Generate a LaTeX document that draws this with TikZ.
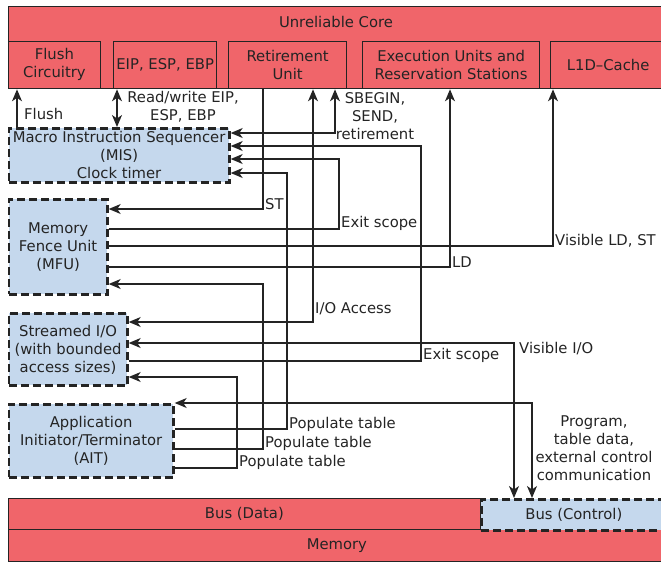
\documentclass[tikz,border=0pt]{standalone}
\usepackage{fontspec}
\setmainfont{DejaVu Sans}
\usetikzlibrary{arrows.meta}

\definecolor{corered}{RGB}{240,101,106}
\definecolor{unitblue}{RGB}{197,216,237}
\definecolor{ink}{RGB}{36,36,36}

\tikzset{
  txt/.style={font=\fontsize{14.8}{18}\selectfont, text=ink},
  redbox/.style={draw=ink, line width=1.3pt, fill=corered, txt, align=center,
    inner sep=0pt, anchor=north west},
  bluebox/.style={draw=ink, line width=2.7pt, dash pattern=on 8pt off 4pt,
    fill=unitblue, txt, align=center, inner sep=0pt, anchor=north west},
  wire/.style={draw=ink, line width=1.2pt},
  tip/.style={-{Stealth[length=12pt,width=10pt,inset=3.5pt]}},
  bitip/.style={{Stealth[length=12pt,width=10pt,inset=3.5pt]}-{Stealth[length=12pt,width=10pt,inset=3.5pt]}},
  lbl/.style={txt, inner sep=0pt, anchor=base west},
  mlbl/.style={txt, align=center, inner sep=0pt},
}

\begin{document}
\begin{tikzpicture}[x=1pt,y=-1pt]
\useasboundingbox (0,0) rectangle (661,562);
\clip (0,0) rectangle (661,562);

% ---- core and its units ----
\node[redbox, minimum width=657.5pt, minimum height=82pt] (core) at (7.5,6) {};
\node[txt] (coretitle) at (336,22) {Unreliable Core};
\node[redbox, minimum width=92.5pt, minimum height=47.5pt] (flush) at (7.5,40.5) {Flush\\Circuitry};
\node[redbox, minimum width=103pt, minimum height=47.5pt] (eip) at (113,40.5) {EIP, ESP, EBP};
\node[redbox, minimum width=118pt, minimum height=47.5pt] (ret) at (228,40.5) {Retirement\\Unit};
\node[redbox, minimum width=177pt, minimum height=47.5pt] (exe) at (362,40.5) {Execution Units and\\Reservation Stations};
\node[redbox, minimum width=115pt, minimum height=47.5pt] (l1d) at (550,40.5) {L1D--Cache};

% ---- reliable units ----
\node[bluebox, minimum width=220.5pt, minimum height=54pt] (mis) at (7.5,127) {Macro Instruction Sequencer\\(MIS)\\Clock timer};
\node[bluebox, minimum width=98.5pt, minimum height=95pt] (mfu) at (7.5,198) {Memory\\Fence Unit\\(MFU)};
\node[bluebox, minimum width=118.5pt, minimum height=72pt] (sio) at (7.5,312) {Streamed I/O\\(with bounded\\access sizes)};
\node[bluebox, minimum width=164.5pt, minimum height=73pt] (ait) at (7.5,403) {Application\\Initiator/Terminator\\(AIT)};

% ---- buses and memory ----
\node[redbox, minimum width=472.5pt, minimum height=31pt] (busd) at (7.5,498) {Bus (Data)};
\node[redbox, minimum width=657.5pt, minimum height=32pt] (mem) at (7.5,529) {Memory};
\node[bluebox, minimum width=185pt, minimum height=31pt] (busc) at (480,498) {Bus (Control)};

% ---- routing points ----
\coordinate (flushx) at (17,0);
\coordinate (eipx) at (117,0);
\coordinate (sbc) at (335,133);
\coordinate (ex2) at (421,361);
\coordinate (ex2top) at (421,146);
\coordinate (ex1) at (339,229);
\coordinate (ex1top) at (339,159);
\coordinate (pop1) at (287,429);
\coordinate (pop1top) at (287,173);
\coordinate (st) at (263,209);
\coordinate (pop2) at (263,449);
\coordinate (pop2top) at (263,284);
\coordinate (vis) at (553,246);
\coordinate (ld) at (450,267);
\coordinate (io) at (313,322);
\coordinate (vio) at (514,343);
\coordinate (prog) at (532,403);
\coordinate (pop3) at (237,468);
\coordinate (pop3top) at (237,377);

% ---- connectors ----
\draw[wire,tip] (mis.north -| flushx) -- (flush.south -| flushx);
\draw[wire,bitip] (mis.north -| eipx) -- (eip.south -| eipx);
\draw[wire,bitip] (mis.east |- sbc) -- (sbc) -- (ret.south -| sbc);
\draw[wire,tip] (sio.east |- ex2) -- (ex2) -- (ex2top) -- (mis.east |- ex2top);
\draw[wire,tip] (mfu.east |- ex1) -- (ex1) -- (ex1top) -- (mis.east |- ex1top);
\draw[wire,tip] (ait.east |- pop1) -- (pop1) -- (pop1top) -- (mis.east |- pop1top);
\draw[wire,tip] (ret.south -| st) -- (st) -- (mfu.east |- st);
\draw[wire,tip] (ait.east |- pop2) -- (pop2) -- (pop2top) -- (mfu.east |- pop2top);
\draw[wire,tip] (mfu.east |- vis) -- (vis) -- (l1d.south -| vis);
\draw[wire,tip] (mfu.east |- ld) -- (ld) -- (exe.south -| ld);
\draw[wire,bitip] (sio.east |- io) -- (io) -- (ret.south -| io);
\draw[wire,bitip] (sio.east |- vio) -- (vio) -- (busc.north -| vio);
\draw[wire,bitip] (ait.east |- prog) -- (prog) -- (busc.north -| prog);
\draw[wire,tip] (ait.east |- pop3) -- (pop3) -- (pop3top) -- (sio.east |- pop3top);

% ---- connector labels ----
\node[lbl] (lflush) at (24,119) {Flush};
\node[mlbl] (lrw) at (183,107) {Read/write EIP,\\ESP, EBP};
\node[mlbl] (lsb) at (375,116) {SBEGIN,\\SEND,\\retirement};
\node[lbl] (lex1) at (341,227) {Exit scope};
\node[lbl] (lex2) at (423,359) {Exit scope};
\node[lbl] (lpop1) at (289,428) {Populate table};
\node[lbl] (lpop2) at (265,447) {Populate table};
\node[lbl] (lpop3) at (239,466) {Populate table};
\node[lbl] (lst) at (265,209) {ST};
\node[lbl] (lvis) at (555,245) {Visible LD, ST};
\node[lbl] (lld) at (452,267) {LD};
\node[lbl] (lio) at (315,313) {I/O Access};
\node[lbl] (lvio) at (519,353) {Visible I/O};
\node[mlbl] (lprog) at (594,448) {Program,\\table data,\\external control\\communication};
\end{tikzpicture}
\end{document}
